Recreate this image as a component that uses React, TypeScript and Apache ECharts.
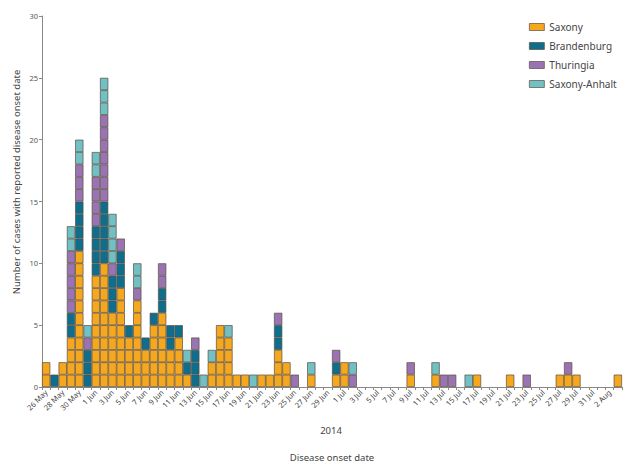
import React, { useEffect, useRef } from "react";
import * as echarts from "echarts";

const dates: string[] = [
  "26 May","27 May","28 May","29 May","30 May","31 May",
  "1 Jun","2 Jun","3 Jun","4 Jun","5 Jun","6 Jun","7 Jun","8 Jun","9 Jun","10 Jun",
  "11 Jun","12 Jun","13 Jun","14 Jun","15 Jun","16 Jun","17 Jun","18 Jun","19 Jun","20 Jun",
  "21 Jun","22 Jun","23 Jun","24 Jun","25 Jun","26 Jun","27 Jun","28 Jun","29 Jun","30 Jun",
  "1 Jul","2 Jul","3 Jul","4 Jul","5 Jul","6 Jul","7 Jul","8 Jul","9 Jul","10 Jul",
  "11 Jul","12 Jul","13 Jul","14 Jul","15 Jul","16 Jul","17 Jul","18 Jul","19 Jul","20 Jul",
  "21 Jul","22 Jul","23 Jul","24 Jul","25 Jul","26 Jul","27 Jul","28 Jul","29 Jul","30 Jul",
  "31 Jul","1 Aug","2 Aug","3 Aug",
];

// counts per day (26 May .. 3 Aug)
const saxony: number[] = [
  2,0,2,4,11,0, 9,10,6,8,4,7,3,5,6,3, 4,1,0,0,2,5,4,1,1,0, 1,1,3,2,0,0,1,0,0,1,
  2,0,0,0,0,0,0,0,1,0, 0,1,0,0,0,0,1,0,0,0, 1,0,0,0,0,0,1,1,1,0, 0,0,0,1,
];
const brandenburg: number[] = [
  0,1,0,2,4,3, 4,5,3,3,1,0,1,1,2,2, 1,1,3,0,0,0,0,0,0,0, 0,0,2,0,0,0,0,0,0,1,
  0,0,0,0,0,0,0,0,0,0, 0,0,0,0,0,0,0,0,0,0, 0,0,0,0,0,0,0,0,0,0, 0,0,0,0,
];
const thuringia: number[] = [
  0,0,0,5,3,1, 4,7,1,1,0,1,0,0,2,0, 0,0,1,0,0,0,0,0,0,0, 0,0,1,0,1,0,0,0,0,1,
  0,1,0,0,0,0,0,0,1,0, 0,0,1,1,0,0,0,0,0,0, 0,0,1,0,0,0,0,1,0,0, 0,0,0,0,
];
const saxonyAnhalt: number[] = [
  0,0,0,2,2,1, 2,3,4,0,0,2,0,0,0,0, 0,1,0,1,1,0,1,0,0,1, 0,0,0,0,0,0,1,0,0,0,
  0,1,0,0,0,0,0,0,0,0, 0,1,0,0,0,1,0,0,0,0, 0,0,0,0,0,0,0,0,0,0, 0,0,0,0,
];

const yTicks = { min: 0, max: 30, interval: 5 };

const regions = [
  { name: "Saxony", values: saxony, color: "#F5A71E" },
  { name: "Brandenburg", values: brandenburg, color: "#0E6E8C" },
  { name: "Thuringia", values: thuringia, color: "#9A74B2" },
  { name: "Saxony-Anhalt", values: saxonyAnhalt, color: "#70C0C4" },
];

const FONT = "Noto Sans";

export default function App() {
  const ref = useRef<HTMLDivElement>(null);
  useEffect(() => {
    if (!ref.current) return;
    const chart = echarts.init(ref.current, undefined, { renderer: "svg" });
    const series: any[] = [];
    regions.forEach((r) => {
      const maxK = Math.max(...r.values);
      for (let k = 1; k <= maxK; k++) {
        series.push({
          type: "bar",
          name: r.name,
          stack: "total",
          barCategoryGap: "0%",
          itemStyle: { color: r.color, borderColor: "#5a4d40", borderWidth: 0.7 },
          data: r.values.map((c) => (c >= k ? 1 : null)),
        });
      }
    });
    chart.setOption({
      animation: false,
      textStyle: { fontFamily: FONT },
      grid: { left: 42, right: 6, top: 16, bottom: 84, containLabel: false },
      legend: {
        data: regions.map((r) => ({ name: r.name, icon: "rect" })),
        orient: "vertical",
        left: 524,
        top: 17,
        itemWidth: 15,
        itemHeight: 7,
        itemGap: 9,
        itemStyle: { borderWidth: 0.7 },
        textStyle: { fontFamily: FONT, fontSize: 10, color: "#444" },
      },
      xAxis: {
        type: "category",
        data: dates,
        axisLine: { lineStyle: { color: "#888", width: 1 } },
        axisTick: { show: true, interval: 0, length: 3, lineStyle: { color: "#888" } },
        axisLabel: {
          interval: 1,
          rotate: 45,
          fontSize: 7.5,
          color: "#444",
          margin: 4,
          fontFamily: FONT,
        },
      },
      yAxis: {
        type: "value",
        min: yTicks.min,
        max: yTicks.max,
        interval: yTicks.interval,
        splitLine: { show: false },
        axisLine: { show: true, lineStyle: { color: "#888", width: 1 } },
        axisTick: { show: true, length: 3, lineStyle: { color: "#888" } },
        axisLabel: { fontSize: 7.5, color: "#555", margin: 4, fontFamily: FONT },
      },
      graphic: [
        {
          type: "text",
          x: 16,
          y: 182,
          rotation: Math.PI / 2,
          style: {
            text: "Number of cases with reported disease onset date",
            fontSize: 9.5,
            fill: "#444",
            fontFamily: FONT,
            textAlign: "center",
            textVerticalAlign: "middle",
          },
        },
        {
          type: "text",
          x: 331,
          y: 430,
          style: {
            text: "2014",
            fontSize: 9.5,
            fill: "#444",
            fontFamily: FONT,
            textAlign: "center",
            textVerticalAlign: "middle",
          },
        },
        {
          type: "text",
          x: 332,
          y: 457,
          style: {
            text: "Disease onset date",
            fontSize: 9.5,
            fill: "#444",
            fontFamily: FONT,
            textAlign: "center",
            textVerticalAlign: "middle",
          },
        },
      ],
      series,
    });
    return () => chart.dispose();
  }, []);
  return (
    <div
      ref={ref}
      style={{ position: "fixed", left: 0, top: 0, width: 628, height: 471, background: "#fff" }}
    />
  );
}
